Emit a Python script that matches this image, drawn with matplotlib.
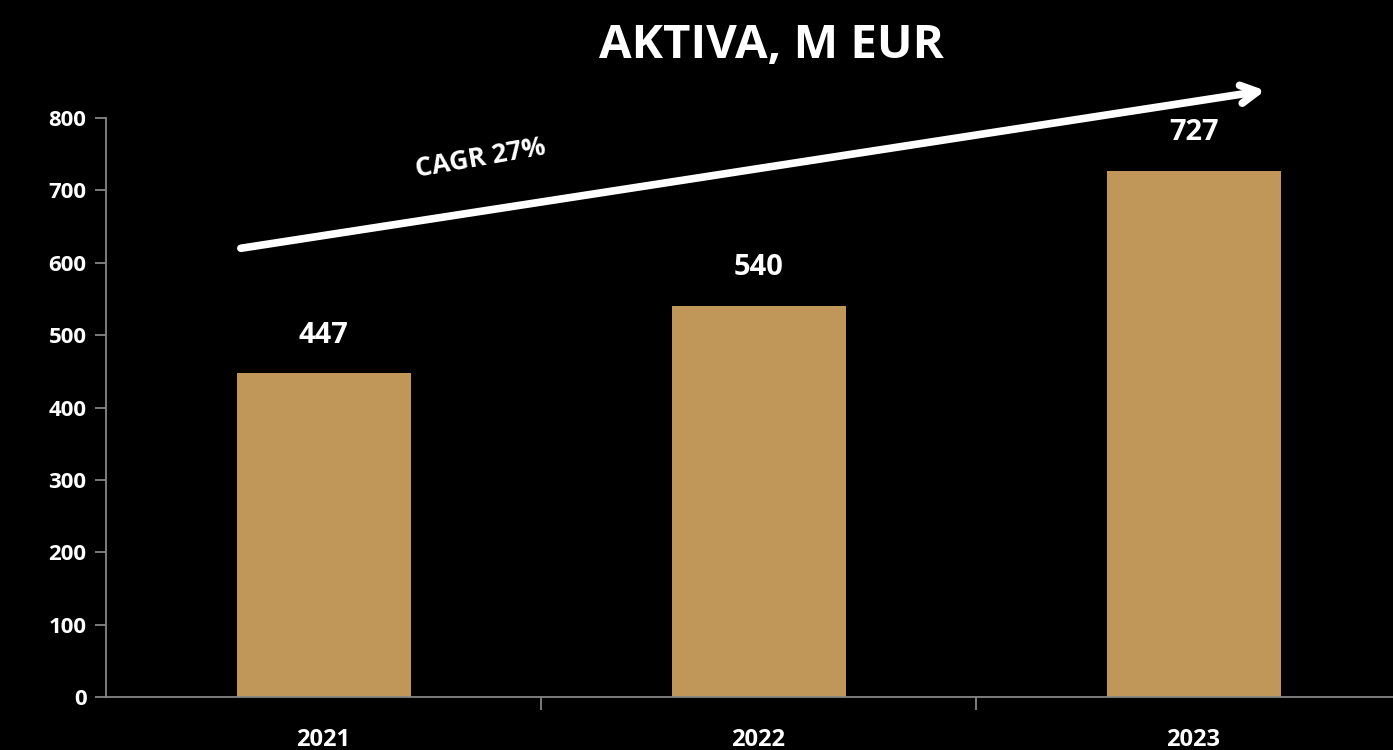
import matplotlib.pyplot as plt

years = ["2021", "2022", "2023"]
assets = [447, 540, 727]
y_ticks = [0, 100, 200, 300, 400, 500, 600, 700, 800]
title = "AKTIVA, M EUR"
cagr_label = "CAGR 27%"

BAR_COLOR = "#C09758"
AXIS_COLOR = "#868686"

plt.rcParams["font.family"] = ["Open Sans", "DejaVu Sans"]

fig = plt.figure(figsize=(13.93, 7.5), dpi=100, facecolor="black")
# axes runs a bit past the right edge of the figure, like the original slide
ax = fig.add_axes([106 / 1393, 53 / 750, 1305 / 1393, 579 / 750])
ax.set_facecolor("black")

x = list(range(len(years)))
ax.bar(x, assets, width=0.4, color=BAR_COLOR, zorder=2)

for xi, v in zip(x, assets):
    ax.text(xi, v + 33, str(v), ha="center", va="bottom", color="white",
            fontsize=21, fontweight="bold")

ax.set_xlim(-0.5, 2.5)
ax.set_ylim(0, 800)
ax.set_yticks(y_ticks)
ax.set_yticklabels([str(t) for t in y_ticks], fontsize=16, fontweight="bold", color="white")

# category labels centred, tick marks between categories
ax.set_xticks(x)
ax.set_xticklabels(years, fontsize=17, fontweight="bold", color="white")
ax.tick_params(axis="x", length=0, pad=22)
ax.set_xticks([0.5, 1.5], minor=True)
ax.tick_params(axis="x", which="minor", length=9, width=1.3, color=AXIS_COLOR, direction="out")
ax.tick_params(axis="y", length=8, width=1.3, color=AXIS_COLOR, pad=6)

for side in ["top", "right"]:
    ax.spines[side].set_visible(False)
for side in ["left", "bottom"]:
    ax.spines[side].set_color(AXIS_COLOR)
    ax.spines[side].set_linewidth(1.3)

# growth arrow
ax.annotate("", xy=(2.165, 838), xytext=(-0.19, 620),
            arrowprops=dict(arrowstyle="->,head_length=1.2,head_width=0.65",
                            color="white", lw=5.5, shrinkA=0, shrinkB=0),
            annotation_clip=False)
ax.text(0.36, 744, cagr_label, rotation=10, ha="center", va="center",
        color="white", fontsize=19, fontweight="bold")

fig.text(771 / 1393, 1 - 45 / 750, title, ha="center", va="center",
         color="white", fontsize=34, fontweight="bold")

fig.savefig("out.png", dpi=100, facecolor="black")
